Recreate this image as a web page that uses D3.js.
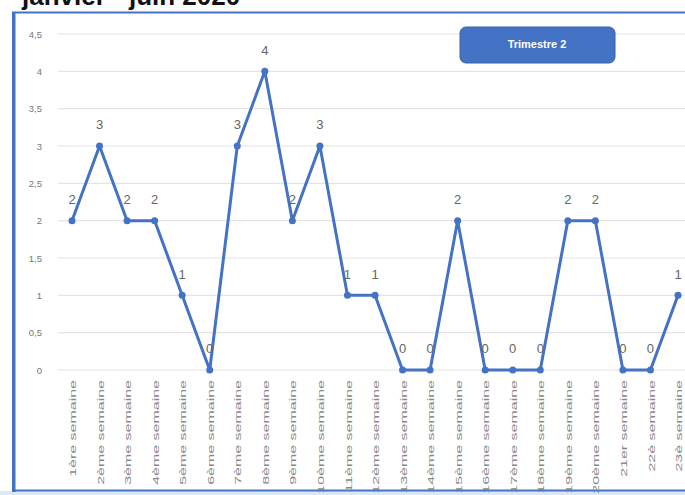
<!DOCTYPE html>
<html><head><meta charset="utf-8">
<script src="https://cdn.jsdelivr.net/npm/d3@7"></script>
<style>body{margin:0;background:#fff;overflow:hidden}svg{display:block}</style>
</head><body>
<script>
const categories = ["1ère semaine","2ème semaine","3ème semaine","4ème semaine","5ème semaine","6ème semaine","7ème semaine","8ème semaine","9ème semaine","10ème semaine","11ème semaine","12ème semaine","13ème semaine","14ème semaine","15ème semaine","16ème semaine","17ème semaine","18ème semaine","19ème semaine","20ème semaine","21er semaine","22è semaine","23è semaine"];
const values = [2,3,2,2,1,0,3,4,2,3,1,1,0,0,2,0,0,0,2,2,0,0,1];
const yTicks = [0,0.5,1,1.5,2,2.5,3,3.5,4,4.5];
const seriesName = "Trimestre 2";
const title = "janvier - juin 2020";

const W = 685, H = 495;
const svg = d3.select("body").append("svg").attr("width", W).attr("height", H);
const blue = "#4472C4";

// title (cut off at top, as in the reference)
svg.append("text").attr("x", 22).attr("y", 5).attr("font-family","Liberation Sans, Arial, sans-serif")
  .attr("font-weight","bold").attr("font-size", 26).attr("fill","#111").text(title);

// frame
svg.append("rect").attr("x", 0).attr("y", 491).attr("width", W).attr("height", 4).attr("fill", "#dbe9f7");
svg.append("rect").attr("x", 13).attr("y", 12.5).attr("width", W).attr("height", 478)
  .attr("fill", "#fff").attr("stroke", blue).attr("stroke-width", 2);
svg.append("rect").attr("x", 12).attr("y", 12).attr("width", 3.5).attr("height", 480).attr("fill", blue);

const x = d3.scalePoint().domain(categories).range([72, 678]);
const y = d3.scaleLinear().domain([0, 4.5]).range([370, 34]);

// gridlines
svg.append("g").selectAll("line").data(yTicks).join("line")
  .attr("x1", 58).attr("x2", W).attr("y1", d => y(d)).attr("y2", d => y(d))
  .attr("stroke", "#e4e4e4").attr("stroke-width", 1.2);

// y axis
const yAxis = d3.axisLeft(y).tickValues(yTicks).tickSize(0).tickPadding(0)
  .tickFormat(d => String(d).replace(".", ","));
const yg = svg.append("g").attr("transform", "translate(42,0)").call(yAxis);
yg.select(".domain").remove();
yg.selectAll("text").attr("fill", "#777").attr("font-size", 9.5).attr("font-family", "Liberation Sans, Arial, sans-serif");

// x axis
const xAxis = d3.axisBottom(x).tickSize(0).tickPadding(0);
const xg = svg.append("g").attr("transform", "translate(0,380)").call(xAxis);
xg.select(".domain").remove();
xg.selectAll("text").attr("fill", "#888").attr("font-size", 10).attr("font-family", "Liberation Sans Narrow, Liberation Sans, Arial, sans-serif")
  .attr("text-anchor", "end").attr("dy", 0).attr("y", 0)
  .attr("transform", "rotate(-90) scale(1.6,0.9) translate(0,4)");

// line
const line = d3.line().x((d, i) => x(categories[i])).y(d => y(d));
svg.append("path").datum(values).attr("d", line).attr("fill", "none")
  .attr("stroke", blue).attr("stroke-width", 3).attr("stroke-linejoin", "round");
svg.append("g").selectAll("circle").data(values).join("circle")
  .attr("cx", (d, i) => x(categories[i])).attr("cy", d => y(d)).attr("r", 3.5).attr("fill", blue);

// data labels
svg.append("g").selectAll("text").data(values).join("text")
  .attr("x", (d, i) => x(categories[i])).attr("y", d => y(d) - 20)
  .attr("text-anchor", "middle").attr("dominant-baseline", "middle")
  .attr("font-size", 13).attr("fill", "#666").attr("font-family", "Liberation Sans, Arial, sans-serif")
  .text(d => d);

// legend box
const lg = svg.append("g");
lg.append("rect").attr("x", 460).attr("y", 27).attr("width", 155).attr("height", 36).attr("rx", 6)
  .attr("fill", blue).attr("stroke", "#3a62a8").attr("stroke-width", 1);
lg.append("text").attr("x", 537).attr("y", 45).attr("text-anchor", "middle").attr("dominant-baseline", "middle")
  .attr("fill", "#fff").attr("font-size", 11).attr("font-weight", "bold")
  .attr("font-family", "Liberation Sans, Arial, sans-serif").text(seriesName);
</script>
</body></html>
